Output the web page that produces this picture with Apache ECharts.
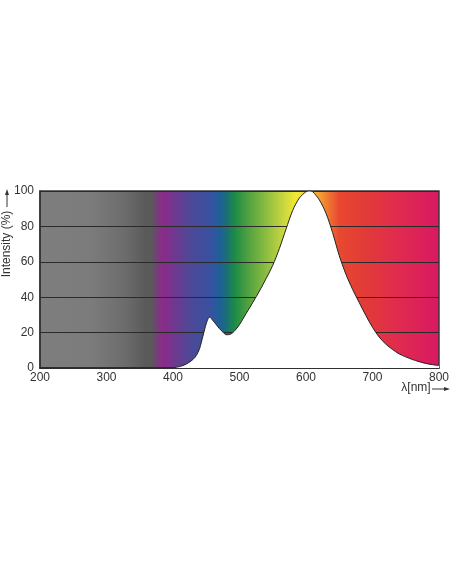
<!DOCTYPE html>
<html>
<head>
<meta charset="utf-8">
<script src="https://cdn.jsdelivr.net/npm/echarts@6/dist/echarts.min.js"></script>
<style>
html,body{margin:0;padding:0;background:#fff;}
#c{width:452px;height:584px;}
</style>
</head>
<body>
<div id="c"></div>
<script>
// wavelength (nm) and relative intensity (%)
var wavelengths = [200, 250, 300, 350, 380, 390, 400, 410, 420, 430, 435, 440, 445, 450, 455, 460, 465, 470, 475, 480, 485, 490, 495, 500, 510, 520, 530, 540, 550, 560, 570, 580, 590, 600, 605, 610, 620, 630, 640, 650, 660, 670, 680, 690, 700, 710, 720, 730, 740, 750, 760, 770, 780, 790, 800];
var intensity   = [0, 0, 0, 0, 0, 0, 0.2, 0.8, 2.2, 4.8, 7, 11, 18, 25, 28.8, 26.8, 24.5, 22.2, 20.3, 18.8, 18.9, 20, 22, 24.5, 30.8, 37, 43.5, 50.5, 58, 67.5, 78.5, 89, 96, 99.6, 100, 99.6, 95, 87.5, 76.5, 63.5, 53, 44.5, 37, 29.7, 23, 17.5, 13.5, 10.5, 8, 6.3, 4.8, 3.6, 2.6, 1.9, 1.4];
var xTicks = [200, 300, 400, 500, 600, 700, 800];
var yTicks = [0, 20, 40, 60, 80, 100];
// spectrum colour stops (wavelength, colour)
var specNm    = [200, 280, 300, 330, 360, 368, 378, 386, 405, 430, 455, 470, 480, 492, 510, 540, 565, 585, 600, 620, 635, 650, 690, 740, 800];
var specColor = ['#7e7e7e','#7b7b7b','#757575','#6b6b6b','#5a5a5a','#5a5a5a','#7a3a7c','#8a2a8a','#6a3a90','#4a4a98','#3a50a0','#1f5f98','#1a6e78','#1a8a48','#4a9e40','#8cbd40','#c8d540','#f2e832','#f5d830','#f4a030','#ee7030','#e84830','#e23a38','#e02a50','#d81862'];

var xMin = 200, xMax = 800;
var stops = specNm.map(function(n, i){ return {offset:(n - xMin)/(xMax - xMin), color: specColor[i]}; });
var data = wavelengths.map(function(w, i){ return [w, intensity[i]]; });

var chart = echarts.init(document.getElementById('c'), null, {renderer:'canvas'});
var font = 'Liberation Sans, Arial, sans-serif';
chart.setOption({
  animation:false,
  grid:{left:40, right:5, top:191, bottom:216, show:true,
        backgroundColor:{type:'linear', x:0, y:0, x2:1, y2:0, colorStops:stops},
        borderColor:'#3a3a3a', borderWidth:1.5},
  xAxis:{type:'value', min:xMin, max:xMax, interval:100,
         axisLine:{show:true, lineStyle:{color:'#333', width:1.5}},
         axisTick:{show:false}, splitLine:{show:false},
         axisLabel:{color:'#333', fontSize:12, fontFamily:font, margin:4,
           formatter:function(v){ return xTicks.indexOf(v) >= 0 ? String(v) : ''; }}},
  yAxis:{type:'value', min:0, max:100, interval:20,
         axisLine:{show:true, lineStyle:{color:'#333', width:1.5}},
         axisTick:{show:false},
         splitLine:{show:true, lineStyle:{color:'#2a2a2a', width:1}},
         axisLabel:{color:'#333', fontSize:12, fontFamily:font, margin:6,
           formatter:function(v){ return yTicks.indexOf(v) >= 0 ? String(v) : ''; }}},
  series:[{type:'line', data:data, smooth:0.3, showSymbol:false,
           lineStyle:{color:'#222', width:1},
           areaStyle:{color:'#ffffff', opacity:1}}],
  graphic:[
    {type:'text', x:7, y:244, rotation:Math.PI/2,
     style:{text:'Intensity (%)', fill:'#333', font:'12px ' + font, textAlign:'center', textVerticalAlign:'middle'}},
    {type:'line', shape:{x1:7, y1:207, x2:7, y2:193}, style:{stroke:'#333', lineWidth:1}},
    {type:'polygon', shape:{points:[[7,189],[5,195],[9,195]]}, style:{fill:'#333'}},
    {type:'text', x:416, y:388,
     style:{text:'λ[nm]', fill:'#333', font:'12px ' + font, textAlign:'center', textVerticalAlign:'middle'}},
    {type:'line', shape:{x1:432, y1:389, x2:445, y2:389}, style:{stroke:'#333', lineWidth:1}},
    {type:'polygon', shape:{points:[[450,389],[444,387],[444,391]]}, style:{fill:'#333'}}
  ]
});
</script>
</body>
</html>
